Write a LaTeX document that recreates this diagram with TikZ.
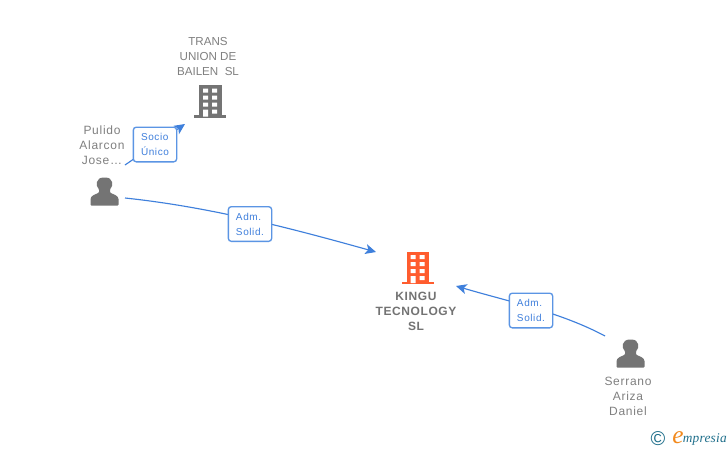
\documentclass[tikz,border=0pt]{standalone}
\usepackage{fontspec}
\setmainfont{Liberation Sans}
\newfontfamily\logofont{Liberation Serif}
\usetikzlibrary{arrows.meta}
\definecolor{linkblue}{HTML}{3F80DC}
\definecolor{boxblue}{HTML}{5B95E4}
\definecolor{labelblue}{HTML}{3F7FDC}
\definecolor{txtgray}{HTML}{808080}
\definecolor{icongray}{HTML}{747474}
\definecolor{brandorange}{HTML}{FF5C2E}
\definecolor{logoteal}{HTML}{1F6F8B}
\definecolor{logoorange}{HTML}{F28A1E}
\tikzset{
  px/.style={x=0.75pt,y=-0.75pt},
  nametext/.style={align=center,text=txtgray,font=\fontsize{9}{11.25}\selectfont\addfontfeatures{LetterSpace=6},inner sep=0pt},
  captext/.style={align=center,text=txtgray,font=\fontsize{8.7}{11.25}\selectfont,inner sep=0pt},
  boldtext/.style={align=center,text=txtgray!90!black,font=\fontsize{9}{11.25}\selectfont\bfseries\addfontfeatures{LetterSpace=5},inner sep=0pt},
  linklabel/.style={draw=boxblue,line width=1pt,rounded corners=2.2pt,fill=white,text=labelblue,
    align=left,font=\fontsize{7.5}{11.25}\selectfont\addfontfeatures{LetterSpace=6},minimum width=32.5pt,minimum height=26pt,inner sep=0pt},
  link/.style={draw=linkblue,line width=0.85pt,-{Stealth[length=8pt,width=7.5pt,inset=2pt]}},
}
\newcommand{\personicon}[2]{%
  \fill[icongray,shift={(#1,#2)},rounded corners=0.6pt]
    (-14,13.5) -- (-14,8) .. controls (-14,3.5) and (-9,2.5) .. (-5.5,0.5)
    -- (-5.5,-3) .. controls (-9,-6) and (-9,-14.5) .. (0,-14.5)
    .. controls (9,-14.5) and (9,-6) .. (5.5,-3) -- (5.5,0.5)
    .. controls (9,2.5) and (14,3.5) .. (14,8) -- (14,13.5) -- cycle;}
\newcommand{\buildingicon}[3]{%
  \begin{scope}[shift={(#2,#3)}]
    \fill[#1] (-11,-16.5) rectangle (11.5,15);
    \fill[#1] (-16,13.5) rectangle (16,16);
    \fill[white]
      (-7,-13) rectangle (-2,-9) (2,-13) rectangle (7,-9)
      (-7,-6) rectangle (-2,-2) (2,-6) rectangle (7,-2)
      (-7,1) rectangle (-2,5) (2,1) rectangle (7,5)
      (-7,8) rectangle (-2,15) (2,8) rectangle (7,12);
  \end{scope}}
\begin{document}
\begin{tikzpicture}[px]
\useasboundingbox (0,0) rectangle (728,450);
\fill[white] (0,0) rectangle (728,450);

\buildingicon{icongray}{210}{101.5}
\buildingicon{brandorange}{417.5}{268}
\personicon{104.5}{192}
\personicon{630.5}{354}

\node[captext] (trans) at (208,56.5) {TRANS\\UNION DE\\BAILEN\ \ SL};
\node[nametext] (pulido) at (102,145) {Pulido\\Alarcon\\Jose\ldots};
\node[boldtext] (kingu) at (416,311.5) {KINGU\\TECNOLOGY\\SL};
\node[nametext] (serrano) at (628,396) {Serrano\\Ariza\\Daniel};

\coordinate (pulidoTop) at (125,165);
\coordinate (pulidoOut) at (125,198);
\coordinate (transIn) at (185,124);
\coordinate (kinguLeft) at (376,252);
\coordinate (kinguRight) at (456,286);
\coordinate (serranoOut) at (605,336);

\draw[link] (pulidoTop) -- (transIn);
\draw[link] (pulidoOut) .. controls (210,207) and (290,228) .. (kinguLeft);
\draw[link] (serranoOut) .. controls (560,312) and (510,302) .. (kinguRight);

\node[linklabel] (l1) at (155,144.5) {Socio\\Único};
\node[linklabel] (l2) at (250,224) {Adm.\\Solid.};
\node[linklabel] (l3) at (531,310.5) {Adm.\\Solid.};

\node[text=logoteal,font=\fontsize{15}{15}\selectfont,inner sep=0pt] (copy) at (658,439) {©};
\node[text=logoorange,font=\logofont\itshape\fontsize{19}{19}\selectfont,inner sep=0pt] (logoE) at (678,437.5) {e};
\node[anchor=west,text=logoteal,font=\logofont\itshape\fontsize{10}{11}\selectfont\addfontfeatures{LetterSpace=2},inner sep=0pt] (logoRest) at (682.5,439) {mpresia};
\end{tikzpicture}
\end{document}
